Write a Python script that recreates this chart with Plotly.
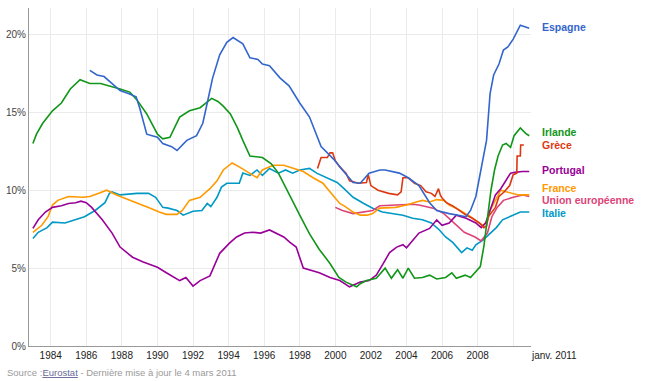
import plotly.graph_objects as go

# ---- data (decimal years, unemployment %) ----
esp_x = [1986.2, 1986.6, 1987.0, 1987.4, 1987.9, 1988.4, 1988.8, 1989.0, 1989.4, 1989.7, 1990.0, 1990.3,
         1990.8, 1991.1, 1991.65, 1992.2, 1992.55, 1992.8, 1993.1, 1993.5, 1993.9, 1994.25, 1994.8, 1995.2,
         1995.65, 1995.9, 1996.3, 1996.9, 1997.4, 1998.0, 1998.55, 1999.2, 1999.9, 2000.4, 2001.0, 2001.4,
         2001.9, 2002.5, 2002.8, 2003.6, 2004.1, 2004.7, 2005.3, 2005.7, 2006.4, 2007.35, 2007.6, 2007.9,
         2008.2, 2008.5, 2008.7, 2008.9, 2009.2, 2009.45, 2009.7, 2010.0, 2010.4, 2010.7, 2010.9]
esp_y = [17.7, 17.4, 17.3, 16.9, 16.4, 16.2, 16.0, 15.3, 13.6, 13.5, 13.4, 13.0,
         12.8, 12.55, 13.2, 13.5, 14.3, 15.6, 17.2, 18.7, 19.5, 19.8, 19.4, 18.5,
         18.4, 18.1, 18.0, 17.2, 16.7, 15.6, 14.7, 12.8, 12.0, 11.3, 10.5, 10.45,
         11.1, 11.3, 11.3, 11.1, 10.8, 10.3, 9.2, 8.7, 8.5, 8.3, 8.7, 9.6,
         11.3, 13.2, 16.2, 17.4, 18.1, 19.0, 19.2, 19.7, 20.6, 20.45, 20.4]

irl_x = [1983.0, 1983.2, 1983.55, 1984.1, 1984.6, 1985.1, 1985.65, 1986.2, 1986.8, 1987.3, 1987.9, 1988.45,
         1988.85, 1989.4, 1990.0, 1990.3, 1990.7, 1991.25, 1991.8, 1992.4, 1993.05, 1993.4, 1993.7, 1994.1,
         1994.5, 1994.8, 1995.2, 1995.9, 1996.4, 1996.8, 1997.2, 1997.6, 1998.0, 1998.55, 1999.1, 1999.7,
         2000.2, 2000.6, 2001.2, 2001.4, 2001.75, 2002.3, 2002.8, 2003.15, 2003.5, 2003.8, 2004.1, 2004.45,
         2004.9, 2005.3, 2005.7, 2006.2, 2006.55, 2006.8, 2007.3, 2007.6, 2007.85, 2008.15, 2008.35, 2008.55,
         2008.75, 2008.95, 2009.15, 2009.4, 2009.6, 2009.85, 2010.05, 2010.4, 2010.7, 2010.9]
irl_y = [13.0, 13.6, 14.3, 15.1, 15.6, 16.5, 17.1, 16.85, 16.85, 16.7, 16.5, 16.3,
         15.8, 14.9, 13.6, 13.3, 13.4, 14.7, 15.1, 15.3, 15.9, 15.7, 15.4, 14.9,
         14.0, 13.2, 12.2, 12.1, 11.7, 11.1, 10.2, 9.2, 8.4, 7.2, 6.2, 5.3,
         4.4, 4.1, 3.8, 4.0, 4.2, 4.35, 5.0, 4.35, 4.9, 4.35, 5.0, 4.35,
         4.4, 4.55, 4.3, 4.4, 4.7, 4.35, 4.55, 4.4, 4.75, 5.1, 6.4, 8.1,
         10.0, 11.3, 12.2, 12.9, 13.0, 12.75, 13.5, 14.0, 13.65, 13.5]

grc_x = [1999.0, 1999.2, 1999.55, 1999.7, 1999.85, 2000.0, 2000.25, 2000.6, 2000.8, 2001.3, 2001.75, 2001.85,
         2002.0, 2002.4, 2003.0, 2003.5, 2003.7, 2003.8, 2004.1, 2004.45, 2004.8, 2005.1, 2005.4, 2005.6,
         2005.8, 2005.9, 2006.0, 2006.25, 2006.6, 2007.0, 2007.35, 2007.7, 2008.1, 2008.35, 2008.5, 2008.6,
         2009.0, 2009.2, 2009.5, 2009.8, 2010.0, 2010.2, 2010.22, 2010.4, 2010.42, 2010.6]
grc_y = [11.4, 12.1, 12.1, 12.4, 12.4, 11.9, 11.5, 11.1, 10.6, 10.45, 10.5, 11.0,
         10.3, 10.0, 9.8, 9.7, 9.9, 10.8, 10.8, 10.45, 10.3, 9.9, 9.8, 9.6,
         10.1, 9.7, 9.5, 9.2, 9.0, 8.7, 8.4, 8.2, 7.9, 7.6, 7.7, 8.3,
         8.9, 9.6, 9.9, 10.3, 11.0, 11.1, 12.2, 12.2, 12.9, 12.9]

prt_x = [1983.0, 1983.3, 1983.7, 1984.1, 1984.6, 1985.0, 1985.4, 1985.7, 1986.0, 1986.3, 1986.9, 1987.45,
         1987.9, 1988.3, 1988.6, 1989.2, 1990.0, 1990.5, 1991.25, 1991.6, 1992.0, 1992.4, 1992.95, 1993.5,
         1994.05, 1994.45, 1994.9, 1995.35, 1995.8, 1996.3, 1996.7, 1997.1, 1997.45, 1997.8, 1998.2, 1998.55,
         1999.1, 1999.7, 2000.25, 2000.8, 2001.4, 2001.9, 2002.3, 2002.7, 2003.05, 2003.45, 2003.8, 2004.0,
         2004.35, 2004.7, 2005.3, 2005.7, 2006.0, 2006.4, 2006.8, 2007.35, 2007.9, 2008.2, 2008.45, 2008.7,
         2009.0, 2009.3, 2009.6, 2009.85, 2010.1, 2010.5, 2010.9]
prt_y = [7.55, 8.1, 8.6, 8.9, 9.0, 9.15, 9.2, 9.3, 9.2, 8.9, 8.1, 7.25,
         6.35, 6.0, 5.7, 5.4, 5.05, 4.7, 4.2, 4.4, 3.85, 4.2, 4.5, 5.95,
         6.6, 7.0, 7.25, 7.3, 7.25, 7.45, 7.25, 7.0, 6.65, 6.35, 5.0, 4.9,
         4.7, 4.4, 4.2, 3.8, 4.1, 4.2, 4.55, 5.3, 6.0, 6.35, 6.5, 6.3,
         6.8, 7.25, 7.55, 8.1, 7.75, 7.9, 8.4, 8.2, 7.9, 7.6, 7.9, 8.7,
         9.7, 10.1, 10.6, 11.1, 11.15, 11.2, 11.2]

fra_x = [1983.0, 1983.5, 1983.85, 1984.1, 1984.4, 1985.0, 1985.8, 1986.2, 1986.7, 1987.15, 1987.7, 1988.15,
         1988.6, 1989.0, 1989.6, 1990.1, 1990.5, 1991.1, 1991.4, 1991.8, 1992.4, 1992.95, 1993.35, 1993.7,
         1994.2, 1994.6, 1995.2, 1995.6, 1995.9, 1996.5, 1997.1, 1997.6, 1998.2, 1998.75, 1999.3, 1999.85,
         2000.25, 2000.5, 2001.0, 2001.4, 2001.8, 2002.1, 2002.5, 2003.4, 2004.0, 2004.55, 2004.9, 2005.3,
         2005.7, 2006.1, 2006.4, 2006.8, 2007.2, 2007.6, 2008.0, 2008.3, 2008.55, 2008.7, 2009.0, 2009.3,
         2009.6, 2010.0, 2010.3, 2010.9]
fra_y = [7.3, 7.75, 8.3, 9.05, 9.35, 9.6, 9.55, 9.6, 9.8, 10.0, 9.7, 9.5,
         9.3, 9.15, 8.85, 8.6, 8.45, 8.45, 8.7, 9.35, 9.55, 10.1, 10.6, 11.3,
         11.75, 11.5, 11.1, 10.8, 11.3, 11.6, 11.6, 11.4, 11.2, 10.8, 10.45, 9.7,
         9.15, 9.0, 8.6, 8.4, 8.4, 8.5, 8.85, 8.9, 9.05, 9.25, 9.35, 9.25,
         9.4, 9.35, 9.05, 8.85, 8.6, 8.3, 7.95, 7.75, 8.0, 8.7, 9.35, 10.0,
         9.9, 9.8, 9.7, 9.7]

ue_x = [2000.0, 2000.4, 2001.0, 2001.55, 2002.1, 2002.5, 2003.4, 2004.35, 2004.7, 2005.5, 2006.1, 2006.7,
        2007.25, 2007.85, 2008.2, 2008.55, 2008.8, 2009.1, 2009.45, 2010.0, 2010.55, 2010.9]
ue_y = [8.9, 8.7, 8.5, 8.6, 8.7, 9.0, 9.05, 9.1, 9.05, 8.85, 8.5, 7.9,
        7.3, 7.0, 6.75, 7.25, 8.3, 8.9, 9.35, 9.55, 9.7, 9.6]

ita_x = [1983.0, 1983.3, 1983.8, 1984.1, 1984.8, 1985.4, 1985.9, 1986.5, 1987.05, 1987.3, 1987.45, 1987.9,
         1988.35, 1988.85, 1989.5, 1989.9, 1990.3, 1990.6, 1991.1, 1991.45, 1992.0, 1992.5, 1992.8, 1993.0,
         1993.35, 1993.6, 1993.9, 1994.6, 1994.8, 1995.2, 1995.6, 1995.9, 1996.3, 1996.8, 1997.2, 1997.6,
         1998.0, 1998.55, 1998.95, 1999.5, 2000.1, 2000.4, 2001.0, 2001.6, 2002.1, 2002.65, 2003.2, 2003.8,
         2004.35, 2004.9, 2005.4, 2005.85, 2006.2, 2006.6, 2007.1, 2007.4, 2007.7, 2007.9, 2008.3, 2008.7,
         2009.05, 2009.4, 2009.8, 2010.1, 2010.4, 2010.9]
ita_y = [6.9, 7.3, 7.6, 7.95, 7.9, 8.1, 8.3, 8.7, 9.2, 9.8, 9.9, 9.7,
         9.75, 9.8, 9.8, 9.55, 8.9, 8.85, 8.7, 8.4, 8.65, 8.7, 9.15, 8.95,
         9.55, 10.2, 10.45, 10.45, 11.1, 10.95, 11.3, 10.95, 11.4, 11.1, 11.3, 11.1,
         11.3, 11.4, 11.1, 10.8, 10.5, 10.2, 9.55, 9.15, 8.85, 8.6, 8.5, 8.4,
         8.2, 8.1, 7.9, 7.45, 7.0, 6.65, 6.0, 6.3, 6.15, 6.5, 6.8, 7.25,
         7.6, 8.1, 8.3, 8.5, 8.6, 8.6]

series_names = ["Italie", "Union européenne", "France", "Portugal", "Grèce", "Irlande", "Espagne"]
series_colors = ["#0099c6", "#dd4477", "#ff9900", "#990099", "#dc3912", "#109618", "#3366cc"]
series_data = [(ita_x, ita_y), (ue_x, ue_y), (fra_x, fra_y), (prt_x, prt_y),
               (grc_x, grc_y), (irl_x, irl_y), (esp_x, esp_y)]

label_names = ["Espagne", "Irlande", "Grèce", "Portugal", "France", "Union européenne", "Italie"]
label_y = [20.5, 13.74, 12.93, 11.28, 10.17, 9.36, 8.55]
label_colors = ["#3366cc", "#109618", "#dc3912", "#990099", "#ff9900", "#dd4477", "#0099c6"]

tick_years = [1984, 1986, 1988, 1990, 1992, 1994, 1996, 1998, 2000, 2002, 2004, 2006, 2008, 2010]
tick_text = [str(y) for y in tick_years[:-1]] + [""]
y_ticks = [0, 5, 10, 15, 20]
y_text = ["0%", "5%", "10%", "15%", "20%"]

FONT = "Arial, Liberation Sans, sans-serif"
ML, MR, MT, MB = 29, 119, 8, 35
W, H = 650, 381
PW, PH = W - ML - MR, H - MT - MB

fig = go.Figure()
for name, color, (xs, ys) in zip(series_names, series_colors, series_data):
    fig.add_trace(go.Scatter(x=xs, y=ys, mode="lines", name=name,
                             line=dict(color=color, width=1.6), hoverinfo="skip"))

for name, yv, col in zip(label_names, label_y, label_colors):
    fig.add_annotation(x=(540 - ML) / PW, y=yv, xref="paper", yref="y", text="<b>%s</b>" % name,
                       showarrow=False, xanchor="left", yanchor="middle",
                       font=dict(family=FONT, size=10.5, color=col))

fig.add_annotation(x=1.0, y=0, xref="paper", yref="paper", text="janv. 2011",
                   showarrow=False, xanchor="left", yanchor="top", yshift=-2, xshift=-2,
                   font=dict(family=FONT, size=10, color="#222222"))

fig.add_annotation(x=(5 - ML) / PW, y=(H - MB - 372) / PH, xref="paper", yref="paper",
                   text='Source :<span style="text-decoration:underline;color:#6a6a9a">Eurostat</span> - Dernière mise à jour le 4 mars 2011',
                   showarrow=False, xanchor="left", yanchor="middle",
                   font=dict(family=FONT, size=9.5, color="#9a9a9a"))

fig.update_layout(
    width=W, height=H,
    margin=dict(l=ML, r=MR, t=MT, b=MB, autoexpand=False),
    paper_bgcolor="white", plot_bgcolor="white",
    showlegend=False,
    font=dict(family=FONT, size=10, color="#222222"),
    xaxis=dict(range=[1982.78, 2011.0], tickvals=tick_years, ticktext=tick_text,
               showgrid=True, gridcolor="#ebebeb", gridwidth=1, zeroline=False, automargin=False,
               showline=True, linecolor="#999999", linewidth=1, ticks="",
               tickfont=dict(family=FONT, size=10, color="#222222")),
    yaxis=dict(range=[0, 21.7], tickvals=y_ticks, ticktext=y_text,
               showgrid=True, gridcolor="#ebebeb", gridwidth=1, zeroline=False, automargin=False,
               showline=True, linecolor="#999999", linewidth=1, ticks="",
               tickfont=dict(family=FONT, size=10, color="#444444")),
)

fig.write_html("out.html", config={"displayModeBar": False},
               post_script="document.body.style.margin='0';document.body.style.padding='0';")
